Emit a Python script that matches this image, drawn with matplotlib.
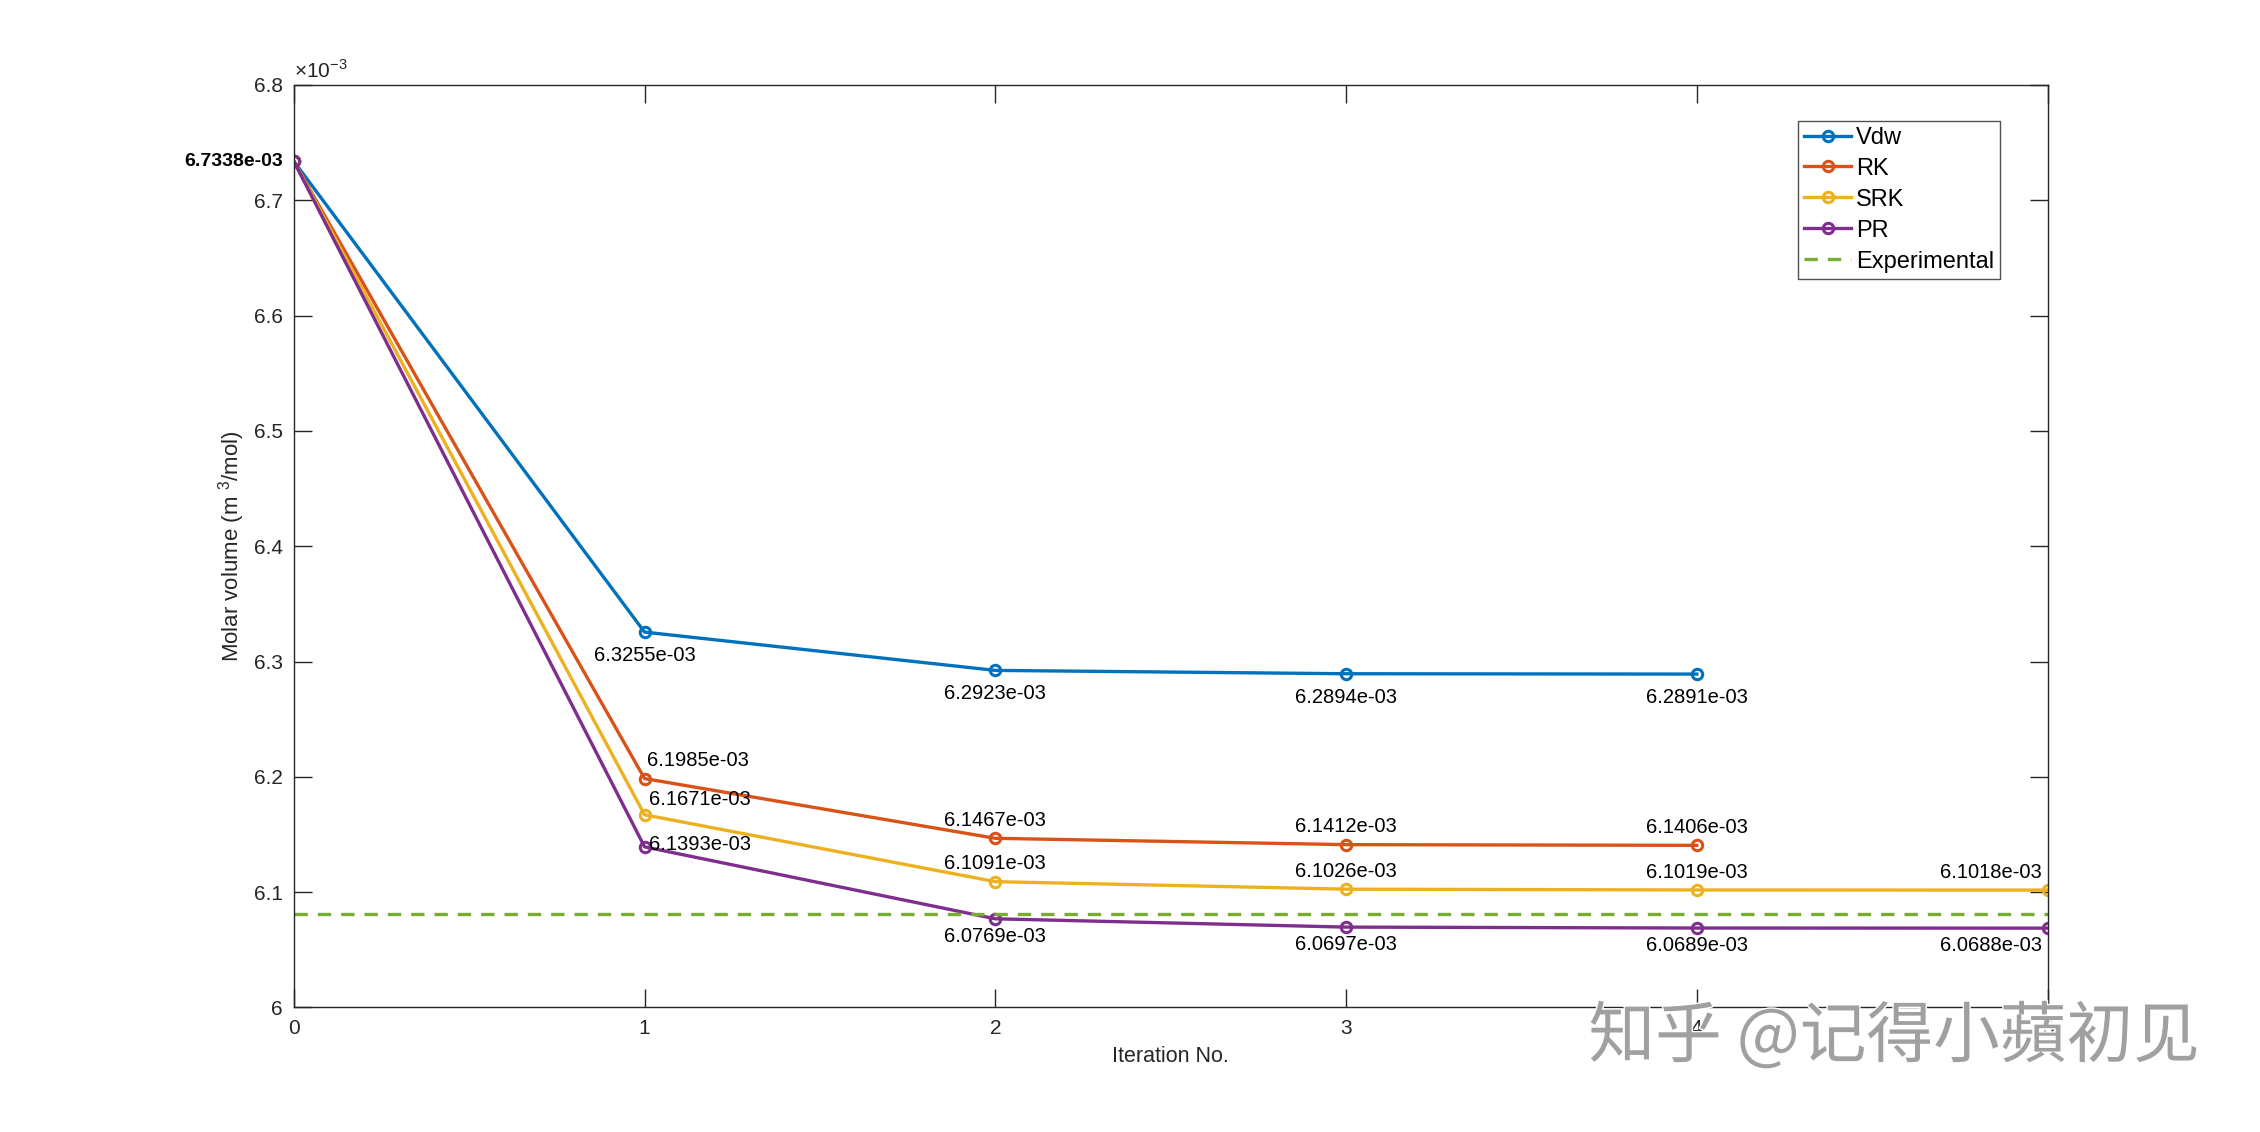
import matplotlib
matplotlib.use('Agg')
import matplotlib.pyplot as plt
import matplotlib.patheffects as pe
import numpy as np

# molar volume per iteration (m^3/mol)
vdw = [6.7338e-3, 6.3255e-3, 6.2923e-3, 6.2894e-3, 6.2891e-3]
rk = [6.7338e-3, 6.1985e-3, 6.1467e-3, 6.1412e-3, 6.1406e-3]
srk = [6.7338e-3, 6.1671e-3, 6.1091e-3, 6.1026e-3, 6.1019e-3, 6.1018e-3]
pr = [6.7338e-3, 6.1393e-3, 6.0769e-3, 6.0697e-3, 6.0689e-3, 6.0688e-3]
experimental = 6.081e-3
series_names = ['Vdw', 'RK', 'SRK', 'PR']

colors = {
    'Vdw': '#0072BD',
    'RK': '#D95319',
    'SRK': '#EDB120',
    'PR': '#7E2F8E',
    'Experimental': '#77AC30',
}

plt.rcParams['font.family'] = ['Liberation Sans', 'DejaVu Sans']
plt.rcParams['mathtext.fontset'] = 'custom'
plt.rcParams['mathtext.rm'] = 'Liberation Sans'

fig = plt.figure(figsize=(22.6, 11.32), dpi=100)
ax = fig.add_axes([0.130, 0.110, 0.776, 0.815])

all_series = [vdw, rk, srk, pr]
for name, vals in zip(series_names, all_series):
    x = np.arange(len(vals))
    ax.plot(x, vals, '-o', color=colors[name], lw=2.4, ms=7.5, mew=2.2,
            mfc='none', label=name)

ax.plot([0, 5], [experimental, experimental], '--', color=colors['Experimental'],
        lw=2.4, dashes=(4, 3), label='Experimental')

fmt = lambda v: f'{v:.4e}'
txt_kw = dict(fontsize=14.5, color='black')

# value labels
ax.annotate(fmt(vdw[0]), (0, vdw[0]), xytext=(-8, 0), textcoords='offset points',
            ha='right', va='center', fontweight='bold', fontsize=14, color='black')
for i in range(1, len(vdw)):
    ax.annotate(fmt(vdw[i]), (i, vdw[i]), xytext=(0, -10), textcoords='offset points',
                ha='center', va='top', **txt_kw)
ax.annotate(fmt(rk[1]), (1, rk[1]), xytext=(2, 6), textcoords='offset points',
            ha='left', va='bottom', **txt_kw)
for i in range(2, len(rk)):
    ax.annotate(fmt(rk[i]), (i, rk[i]), xytext=(0, 6), textcoords='offset points',
                ha='center', va='bottom', **txt_kw)
ax.annotate(fmt(srk[1]), (1, srk[1]), xytext=(3, 4), textcoords='offset points',
            ha='left', va='bottom', **txt_kw)
for i in range(2, len(srk) - 1):
    ax.annotate(fmt(srk[i]), (i, srk[i]), xytext=(0, 6), textcoords='offset points',
                ha='center', va='bottom', **txt_kw)
ax.annotate(fmt(srk[5]), (5, srk[5]), xytext=(-4, 6), textcoords='offset points',
            ha='right', va='bottom', **txt_kw)
ax.annotate(fmt(pr[1]), (1, pr[1]), xytext=(3, 2), textcoords='offset points',
            ha='left', va='center', **txt_kw)
for i in range(2, len(pr) - 1):
    ax.annotate(fmt(pr[i]), (i, pr[i]), xytext=(0, -6), textcoords='offset points',
                ha='center', va='top', **txt_kw)
ax.annotate(fmt(pr[5]), (5, pr[5]), xytext=(-4, -6), textcoords='offset points',
            ha='right', va='top', **txt_kw)

ax.set_xlim(0, 5)
ax.set_ylim(6.0e-3, 6.8e-3)
ax.set_xticks(np.arange(0, 6, 1))
yt = np.arange(6.0, 6.81, 0.1)
ax.set_yticks(yt * 1e-3)
ax.set_yticklabels([f'{v:.1f}' if abs(v - 6) > 1e-9 else '6' for v in yt])
ax.text(0.0, 1.003, r'$\times$10$^{-3}$', transform=ax.transAxes, fontsize=15,
        color='#262626', ha='left', va='bottom')

for s in ax.spines.values():
    s.set_color('#262626')
    s.set_linewidth(1.0)
ax.tick_params(direction='in', length=13, width=1.0, top=True, right=True,
               labelsize=15, colors='#262626', pad=8)

ax.set_xlabel('Iteration No.', fontsize=15.5, color='#262626', labelpad=6)
ax.set_ylabel('Molar volume (m $^3$/mol)', fontsize=16, color='#262626', labelpad=5)

leg = ax.legend(loc='upper right', bbox_to_anchor=(0.973, 0.961), fontsize=17,
                frameon=True, fancybox=False, handlelength=2.0, handletextpad=0.2,
                borderpad=0.25, labelspacing=0.38, borderaxespad=0)
leg.get_frame().set_edgecolor('#262626')
leg.get_frame().set_linewidth(1.0)

fig.text(0.838, 0.083, '知乎 @记得小蘋初见', fontsize=48, color='#a0a0a0',
         family=['Noto Sans CJK SC', 'DejaVu Sans'], ha='center', va='center',
         path_effects=[pe.withStroke(linewidth=2, foreground='white')])

fig.savefig('out.png', dpi=100, facecolor='white')
